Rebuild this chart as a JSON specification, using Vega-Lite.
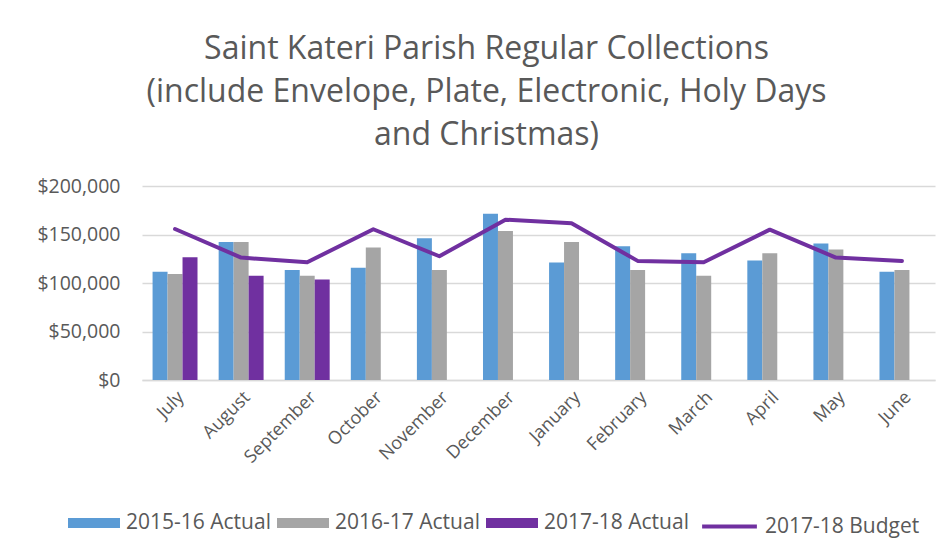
{
  "$schema": "https://vega.github.io/schema/vega-lite/v6.json",
  "autosize": "none",
  "width": 793,
  "height": 194,
  "padding": {"left": 142, "top": 186, "right": 15, "bottom": 173},
  "background": "white",
  "config": {
    "view": {"stroke": null},
    "font": "Open Sans",
    "axis": {"labelFont": "Open Sans", "labelColor": "#595959"},
    "legend": {"labelFont": "Open Sans", "labelColor": "#595959"}
  },
  "title": {
    "text": ["Saint Kateri Parish Regular Collections", "(include Envelope, Plate, Electronic, Holy Days", "and Christmas)"],
    "fontSize": 32,
    "fontWeight": "normal",
    "color": "#595959",
    "font": "Open Sans",
    "lineHeight": 43,
    "anchor": "middle",
    "dx": -52,
    "offset": 24
  },
  "datasets": {
    "actuals": [
      {"month": "July", "series": "2015-16 Actual", "value": 111500},
      {"month": "July", "series": "2016-17 Actual", "value": 109400},
      {"month": "July", "series": "2017-18 Actual", "value": 126600},
      {"month": "August", "series": "2015-16 Actual", "value": 142300},
      {"month": "August", "series": "2016-17 Actual", "value": 142300},
      {"month": "August", "series": "2017-18 Actual", "value": 107400},
      {"month": "September", "series": "2015-16 Actual", "value": 113500},
      {"month": "September", "series": "2016-17 Actual", "value": 107400},
      {"month": "September", "series": "2017-18 Actual", "value": 103600},
      {"month": "October", "series": "2015-16 Actual", "value": 115600},
      {"month": "October", "series": "2016-17 Actual", "value": 136500},
      {"month": "November", "series": "2015-16 Actual", "value": 146100},
      {"month": "November", "series": "2016-17 Actual", "value": 113500},
      {"month": "December", "series": "2015-16 Actual", "value": 171500},
      {"month": "December", "series": "2016-17 Actual", "value": 153700},
      {"month": "January", "series": "2015-16 Actual", "value": 121100},
      {"month": "January", "series": "2016-17 Actual", "value": 142300},
      {"month": "February", "series": "2015-16 Actual", "value": 137900},
      {"month": "February", "series": "2016-17 Actual", "value": 113500},
      {"month": "March", "series": "2015-16 Actual", "value": 130700},
      {"month": "March", "series": "2016-17 Actual", "value": 107400},
      {"month": "April", "series": "2015-16 Actual", "value": 123100},
      {"month": "April", "series": "2016-17 Actual", "value": 130700},
      {"month": "May", "series": "2015-16 Actual", "value": 140600},
      {"month": "May", "series": "2016-17 Actual", "value": 134500},
      {"month": "June", "series": "2015-16 Actual", "value": 111500},
      {"month": "June", "series": "2016-17 Actual", "value": 113500}
    ],
    "budget": [
      {"month": "July", "series": "2017-18 Budget", "value": 155700},
      {"month": "August", "series": "2017-18 Budget", "value": 126200},
      {"month": "September", "series": "2017-18 Budget", "value": 121400},
      {"month": "October", "series": "2017-18 Budget", "value": 155400},
      {"month": "November", "series": "2017-18 Budget", "value": 127600},
      {"month": "December", "series": "2017-18 Budget", "value": 165300},
      {"month": "January", "series": "2017-18 Budget", "value": 161500},
      {"month": "February", "series": "2017-18 Budget", "value": 122800},
      {"month": "March", "series": "2017-18 Budget", "value": 121400},
      {"month": "April", "series": "2017-18 Budget", "value": 155000},
      {"month": "May", "series": "2017-18 Budget", "value": 126200},
      {"month": "June", "series": "2017-18 Budget", "value": 122800}
    ]
  },
  "encoding": {
    "x": {
      "field": "month",
      "type": "nominal",
      "sort": ["July", "August", "September", "October", "November", "December", "January", "February", "March", "April", "May", "June"],
      "scale": {"paddingInner": 0.32, "paddingOuter": 0.16},
      "axis": {
        "title": null,
        "labelAngle": -45,
        "labelFontSize": 18,
        "labelPadding": 8,
        "ticks": false,
        "domainColor": "#d9d9d9",
        "domainWidth": 1.3
      }
    },
    "y": {
      "field": "value",
      "type": "quantitative",
      "scale": {"domain": [0, 200000], "nice": false},
      "axis": {
        "title": null,
        "values": [0, 50000, 100000, 150000, 200000],
        "format": "$,.0f",
        "labelFontSize": 19.5,
        "labelPadding": 22,
        "ticks": false,
        "domain": false,
        "gridColor": "#d9d9d9",
        "gridWidth": 1.3
      }
    }
  },
  "layer": [
    {
      "data": {"name": "actuals"},
      "mark": {"type": "bar"},
      "encoding": {
        "xOffset": {
          "field": "series",
          "type": "nominal",
          "scale": {"domain": ["2015-16 Actual", "2016-17 Actual", "2017-18 Actual"], "paddingInner": 0, "paddingOuter": 0}
        },
        "color": {
          "field": "series",
          "type": "nominal",
          "scale": {"domain": ["2015-16 Actual", "2016-17 Actual", "2017-18 Actual"], "range": ["#5B9BD5", "#A5A5A5", "#7030A0"]},
          "legend": {
            "title": null,
            "orient": "none",
            "direction": "horizontal",
            "legendX": -74,
            "legendY": 311,
            "symbolType": "M-1,-0.19H1V0.19H-1Z",
            "symbolSize": 2704,
            "symbolStrokeWidth": 0,
            "symbolOpacity": 1,
            "labelFontSize": 21,
            "labelOffset": 6,
            "columnPadding": 6
          }
        }
      }
    },
    {
      "data": {"name": "budget"},
      "mark": {"type": "line", "strokeWidth": 4, "strokeJoin": "round", "strokeCap": "round"},
      "encoding": {
        "stroke": {
          "field": "series",
          "type": "nominal",
          "scale": {"domain": ["2017-18 Budget"], "range": ["#7030A0"]},
          "legend": {
            "title": null,
            "orient": "none",
            "direction": "horizontal",
            "legendX": 558,
            "legendY": 311,
            "symbolType": "stroke",
            "symbolSize": 3000,
            "symbolStrokeWidth": 4,
            "labelFontSize": 21,
            "labelOffset": 6
          }
        }
      }
    }
  ]
}
